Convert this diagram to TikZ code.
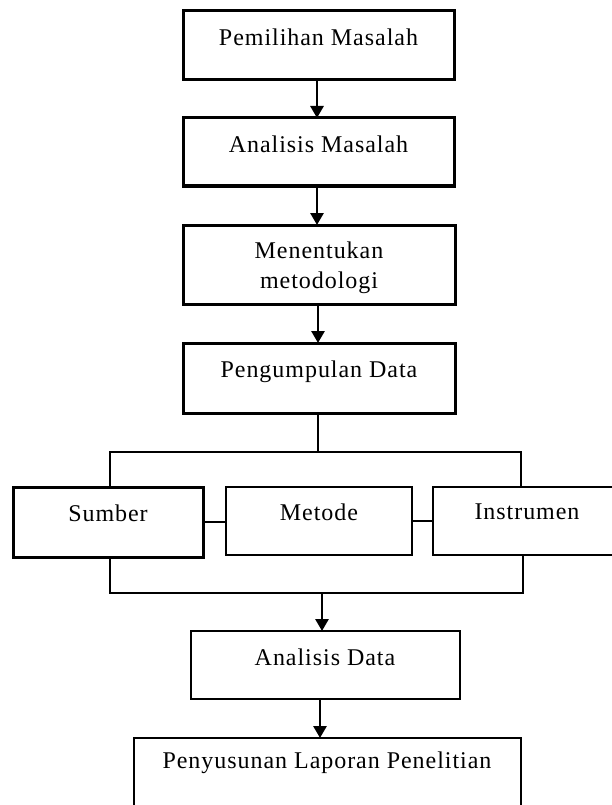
\documentclass[tikz,border=0pt]{standalone}
\usepackage{fontspec}
\setmainfont[LetterSpace=4]{Liberation Serif}
\usetikzlibrary{arrows.meta}
\begin{document}
\begin{tikzpicture}[x=1pt,y=-1pt,
  box/.style={draw=black,line width=3pt,rectangle,inner sep=0pt,outer sep=0pt},
  thinbox/.style={draw=black,line width=2.5pt,rectangle,inner sep=0pt,outer sep=0pt},
  lbl/.style={inner sep=0pt,font=\fontsize{24}{30}\selectfont,align=center},
  conn/.style={line width=2.8pt},
  arr/.style={line width=2.8pt,-{Triangle[width=13pt,length=12pt]}}]
\useasboundingbox (0,0) rectangle (611,805);
% boxes
\node[box,minimum width=271pt,minimum height=69pt] (b1) at (318.5,45.5) {};
\node[box,minimum width=271pt,minimum height=68pt] (b2) at (318.5,152) {};
\node[box,minimum width=272pt,minimum height=79pt] (b3) at (319,264.5) {};
\node[box,minimum width=272pt,minimum height=70pt] (b4) at (319,378) {};
\node[box,minimum width=190pt,minimum height=70pt] (s) at (108,522) {};
\node[thinbox,minimum width=186pt,minimum height=68pt] (m) at (319,521) {};
\node[thinbox,minimum width=182pt,minimum height=68pt] (i) at (524,521) {};
\node[thinbox,minimum width=269pt,minimum height=68pt] (ad) at (325.5,665) {};
\node[thinbox,minimum width=387pt,minimum height=74pt] (p) at (327.5,775) {};
% labels
\node[lbl] (t1) at (318.5,37) {Pemilihan Masalah};
\node[lbl] (t2) at (318.5,144) {Analisis Masalah};
\node[lbl] (t3) at (319,268) {Menentukan\\metodologi};
\node[lbl] (t4) at (319,372) {Pengumpulan Data};
\node[lbl] (ts) at (108,513) {Sumber};
\node[lbl] (tm) at (319,512) {Metode};
\node[lbl] (ti) at (527,512) {Instrumen};
\node[lbl] (tad) at (325,657) {Analisis Data};
\node[lbl] (tp) at (327,763) {Penyusunan Laporan Penelitian};
% coordinates
\coordinate (top) at (318,452);
\coordinate (tl) at (110,452);
\coordinate (tr) at (521,452);
\coordinate (bl) at (110,593);
\coordinate (br) at (523,593);
\coordinate (bm) at (322,593);
% arrows
\draw[arr] (b1.south -| 317,0) -- (b2.north -| 317,0);
\draw[arr] (b2.south -| 317,0) -- (b3.north -| 317,0);
\draw[arr] (b3.south -| 318,0) -- (b4.north -| 318,0);
% branching
\draw[conn] (b4.south -| top) -- (top);
\draw[conn] (s.north -| tl) |- (tr) -- (i.north -| tr);
\draw[conn] (s.east) -- (s.east -| m.west);
\draw[conn] (m.east) -- (m.east -| i.west);
\draw[conn] (s.south -| bl) |- (br) -- (i.south -| br);
\draw[arr] (bm) -- (ad.north -| bm);
\draw[arr] (ad.south -| 320,0) -- (p.north -| 320,0);
\end{tikzpicture}
\end{document}
